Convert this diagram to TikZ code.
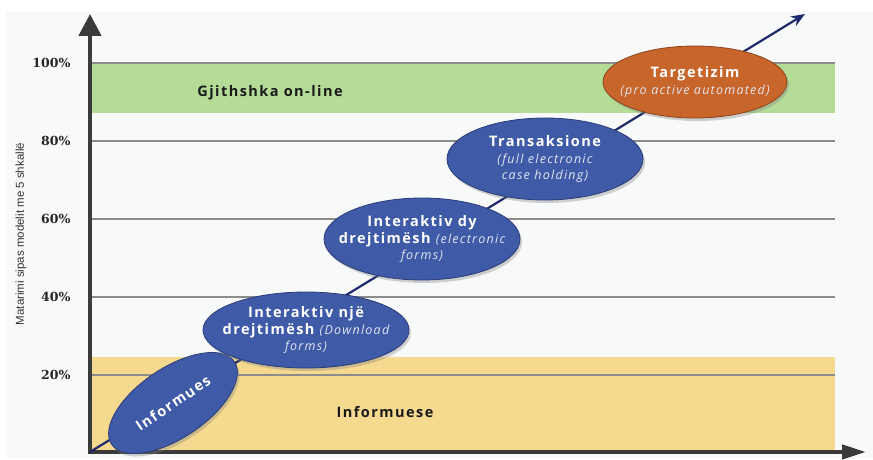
\documentclass[tikz,border=0pt]{standalone}
\usepackage{fontspec}
\usetikzlibrary{shapes.geometric,arrows.meta,shadows}
\newfontfamily\ellfont[LetterSpace=10]{Open Sans}
\newfontfamily\pctfont{DejaVu Serif}
\newfontfamily\axfont{Liberation Sans}
\definecolor{bgpage}{HTML}{F8F9F9}
\definecolor{axisgray}{HTML}{3A3A3A}
\definecolor{gridgray}{HTML}{8C8C8C}
\definecolor{bandgreen}{HTML}{B4DC96}
\definecolor{bandyellow}{HTML}{F4D98E}
\definecolor{stageblue}{HTML}{3F5AA6}
\definecolor{stageblueedge}{HTML}{2B3C78}
\definecolor{stageorange}{HTML}{C8652A}
\definecolor{stageorangeedge}{HTML}{8A4520}
\definecolor{navy}{HTML}{1E2A6A}
\definecolor{softwhite}{HTML}{E2E6F2}
\tikzset{
  axisline/.style={line width=4.5pt, draw=axisgray},
  gridline/.style={line width=1.1pt, draw=gridgray},
  pct/.style={anchor=east, font=\pctfont\bfseries\fontsize{12.5}{14}\selectfont, text=black!85},
  stage/.style={ellipse, draw=stageblueedge, line width=0.8pt, fill=stageblue,
    inner sep=0pt,
    drop shadow={shadow xshift=2pt, shadow yshift=-3pt, opacity=0.35}},
  topstage/.style={stage, fill=stageorange, draw=stageorangeedge},
  stagetext/.style={text=white, inner sep=0pt, align=center,
    font=\ellfont\bfseries\fontsize{14.5}{16.5}\selectfont},
  bandlabel/.style={font=\ellfont\bfseries\fontsize{14.5}{16}\selectfont, text=black!90},
}
\newcommand{\sub}[1]{{\itshape\mdseries\fontsize{12.5}{16.5}\selectfont\color{softwhite}#1}}
\begin{document}
\begin{tikzpicture}[x=1pt,y=1pt]
  \useasboundingbox (0,0) rectangle (873,459);
  \fill[white] (0,0) rectangle (873,459);
  \fill[bgpage] (6,0) rectangle (873,447);

  % coloured bands
  \fill[bandgreen] (92,346) rectangle (835,396);
  \fill[bandyellow] (92,9) rectangle (835,102);

  % level lines
  \foreach \yy in {396,318,240,162,84}
    \draw[gridline] (92,\yy) -- (835,\yy);

  % level labels
  \node[pct] (p100) at (74,396) {100\%};
  \node[pct] (p80)  at (74,318) {80\%};
  \node[pct] (p60)  at (74,240) {60\%};
  \node[pct] (p40)  at (74,162) {40\%};
  \node[pct] (p20)  at (74,84)  {20\%};

  % axis title
  \node[rotate=90, font=\axfont\fontsize{11.5}{13}\selectfont, text=black!80] (ytitle)
    at (21,225) {Matarimi sipas modelit me 5 shkallë};

  % band labels
  \node[bandlabel] (online) at (270,366) {Gjithshka on-line};
  \node[bandlabel] (info) at (385,47) {Informuese};

  % axes
  \coordinate (origin) at (90,7);
  \coordinate (ytop) at (90,445);
  \coordinate (xend) at (866,7);
  \coordinate (xstart) at (88,7);
  \draw[axisline, -{Triangle[length=22pt,width=22pt]}] (origin) -- (ytop);
  \draw[axisline, -{Triangle[length=24pt,width=14pt]}] (xstart) -- (xend);

  % growth arrow
  \coordinate (tip) at (805,445);
  \draw[navy, line width=2.2pt, -{Stealth[length=14pt,width=11pt]}] (origin) -- (tip);

  % maturity stages: ellipse, then its caption on top
  \node[stage, rotate=34, minimum width=148pt, minimum height=70pt] (s1) at (173,56) {};
  \node[stagetext, rotate=34] (s1t) at (s1.center) {Informues};

  \node[stage, minimum width=206pt, minimum height=76pt] (s2) at (306,129) {};
  \node[stagetext] (s2t) at (s2.center)
    {Interaktiv një\\drejtimësh \sub{(Download}\\\sub{forms)}};

  \node[stage, minimum width=196pt, minimum height=82pt] (s3) at (422,220) {};
  \node[stagetext] (s3t) at (s3.center)
    {Interaktiv dy\\drejtimësh \sub{(electronic}\\\sub{forms)}};

  \node[stage, minimum width=196pt, minimum height=82pt] (s4) at (545,300) {};
  \node[stagetext] (s4t) at (s4.center)
    {Transaksione\\\sub{(full electronic}\\\sub{case holding)}};

  \node[topstage, minimum width=184pt, minimum height=72pt] (s5) at (695,377) {};
  \node[stagetext] (s5t) at (s5.center)
    {Targetizim\\\sub{(pro active automated)}};
\end{tikzpicture}
\end{document}
